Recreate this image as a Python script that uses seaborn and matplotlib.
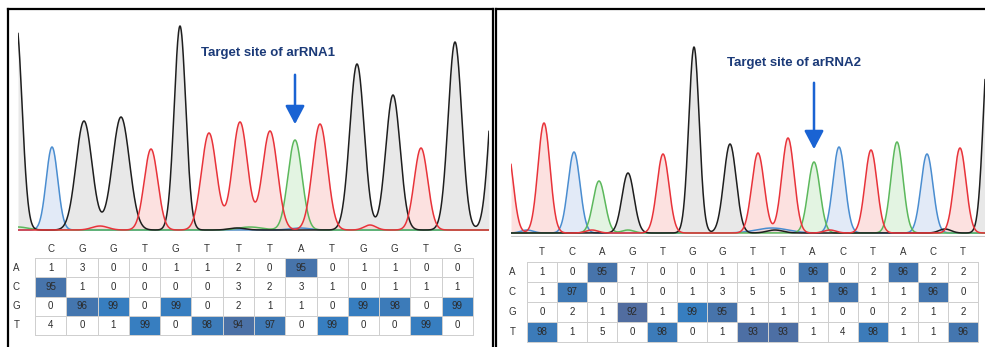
import numpy as np
import pandas as pd
import matplotlib
matplotlib.use("Agg")
import matplotlib.pyplot as plt
from matplotlib.colors import LinearSegmentedColormap
import seaborn as sns

# ---------------- base-call percentage tables ----------------
bases = ["A", "C", "G", "T"]

seq1 = list("CGGTGTTTATGGTG")
pct1_A = [1, 3, 0, 0, 1, 1, 2, 0, 95, 0, 1, 1, 0, 0]
pct1_C = [95, 1, 0, 0, 0, 0, 3, 2, 3, 1, 0, 1, 1, 1]
pct1_G = [0, 96, 99, 0, 99, 0, 2, 1, 1, 0, 99, 98, 0, 99]
pct1_T = [4, 0, 1, 99, 0, 98, 94, 97, 0, 99, 0, 0, 99, 0]

seq2 = list("TCAGTGGTTACTACT")
pct2_A = [1, 0, 95, 7, 0, 0, 1, 1, 0, 96, 0, 2, 96, 2, 2]
pct2_C = [1, 97, 0, 1, 0, 1, 3, 5, 5, 1, 96, 1, 1, 96, 0]
pct2_G = [0, 2, 1, 92, 1, 99, 95, 1, 1, 1, 0, 0, 2, 1, 2]
pct2_T = [98, 1, 5, 0, 98, 0, 1, 93, 93, 1, 4, 98, 1, 1, 96]

# ---------------- chromatogram peaks (scan, base, intensity, width) ----------------
trace1_pos = [16, 52, 84, 121, 151, 180, 209, 240, 270, 295, 320, 357, 393, 421, 455, 497]
trace1_base = list("GCGGTGTTTATGGTGG")
trace1_height = [208, 83, 109, 113, 81, 204, 97, 108, 99, 90, 106, 166, 135, 82, 188, 190]
trace1_width = [6.0, 5.8, 8.0, 8.5, 6.8, 5.8, 7.5, 7.5, 7.5, 7.0, 7.5, 7.2, 7.2, 6.8, 6.8, 7.0]

noise1_pos = [18, 100, 237, 250, 300, 370]
noise1_base = list("ATGACT")
noise1_height = [3, 4, 2, 3, 2, 5]
noise1_width = [10, 8, 8, 12, 10, 6]

trace2_pos = [507, 544, 574, 599, 628, 663, 694, 730, 758, 788, 814, 839, 871, 897, 927, 960, 989]
trace2_base = list("TTCAGTGGTTACTACTG")
trace2_height = [86, 110, 81, 52, 60, 79, 186, 89, 80, 95, 71, 86, 83, 91, 79, 85, 200]
trace2_width = [6.0, 6.0, 6.0, 6.0, 6.0, 6.0, 5.2, 6.2, 6.2, 6.2, 6.0, 6.0, 6.0, 6.0, 6.0, 6.0, 5.5]

noise2_pos = [527, 592, 628, 775, 772, 830, 945]
noise2_base = list("CTAGCTG")
noise2_height = [3, 3, 3, 3, 5, 3, 4]
noise2_width = [6, 6, 6, 8, 16, 6, 6]

line_colors = {"G": "#1e1e1e", "T": "#e8333a", "C": "#4a8dd0", "A": "#5cb85c"}
fill_colors = {"G": "#d6d6d6", "T": "#fbc9c7", "C": "#cbd9f2", "A": "#cdeccb"}

sns.set_theme(style="white")
plt.rcParams["font.family"] = ["Liberation Sans", "DejaVu Sans"]

W, H = 985, 347
fig = plt.figure(figsize=(W / 100, H / 100), dpi=100)


def box(x0, y0, x1, y1):
    return [x0 / W, 1 - y1 / H, (x1 - x0) / W, (y1 - y0) / H]


def draw_frame(rect):
    ax = fig.add_axes(rect, zorder=0)
    ax.set_xticks([])
    ax.set_yticks([])
    ax.patch.set_alpha(0)
    for s in ax.spines.values():
        s.set_visible(True)
        s.set_color("black")
        s.set_linewidth(1.6)
    return ax


def draw_trace(ax, pos, base, height, width, npos, nbase, nheight, nwidth, xlim):
    x = np.linspace(xlim[0], xlim[1], 1600)
    signal = {b: np.zeros_like(x) for b in bases}
    for p, b, h, w in zip(list(pos) + list(npos), list(base) + list(nbase),
                          list(height) + list(nheight), list(width) + list(nwidth)):
        signal[b] += h * np.exp(-0.5 * ((x - p) / w) ** 2)
    for b in ["G", "C", "A", "T"]:
        ax.fill_between(x, 0, signal[b], color=fill_colors[b], alpha=0.55, lw=0)
    for b in ["C", "A", "G", "T"]:
        sns.lineplot(x=x, y=signal[b], ax=ax, color=line_colors[b],
                     lw=1.1, estimator=None, sort=False)
    ax.set_xlim(*xlim)
    ax.set_axis_off()


def draw_table(ax, seq, rows, pad_y, pad_x):
    df = pd.DataFrame(rows, index=bases)
    cmap = LinearSegmentedColormap.from_list(
        "calls", [(0, "white"), (0.899, "white"), (0.9, "#586899"),
                  (0.95, "#4873a9"), (1.0, "#3480c4")])
    sns.heatmap(df, ax=ax, cmap=cmap, vmin=0, vmax=100, annot=True, fmt="d",
                cbar=False, linewidths=0.7, linecolor="#cfcfcf",
                xticklabels=seq, yticklabels=bases,
                annot_kws={"size": 7, "color": "#2b2b2b"})
    ax.collections[0].set_clip_on(False)
    ax.xaxis.tick_top()
    ax.tick_params(axis="x", length=0, pad=pad_y, labelsize=7, colors="#333333")
    ax.tick_params(axis="y", length=0, pad=pad_x, labelsize=7, colors="#333333",
                   rotation=0)


# panel frames
draw_frame(box(7.5, 8.5, 492.5, 420))
draw_frame(box(495.5, 8.5, 1060, 420))

# left panel
axt1 = fig.add_axes(box(18, 18, 489, 234), zorder=2)
draw_trace(axt1, trace1_pos, trace1_base, trace1_height, trace1_width,
           noise1_pos, noise1_base, noise1_height, noise1_width, (18, 489))
axt1.set_ylim(-4, 212)
tgt1 = trace1_pos[trace1_base.index("A")]
axt1.annotate("", xy=(tgt1, 103), xytext=(tgt1, 158),
              arrowprops=dict(arrowstyle="-|>,head_length=0.8,head_width=0.42",
                              color="#1a63d3", lw=1.8, mutation_scale=14))
axt1.text(268, 177, "Target site of arRNA1", ha="center", va="center",
          fontsize=9.5, fontweight="bold", color="#1b3a78")

axh1 = fig.add_axes(box(35, 258, 473, 335), zorder=2)
draw_table(axh1, seq1, [pct1_A, pct1_C, pct1_G, pct1_T], 3, 11)

# right panel
axt2 = fig.add_axes(box(511, 20, 985, 237), zorder=2)
draw_trace(axt2, trace2_pos, trace2_base, trace2_height, trace2_width,
           noise2_pos, noise2_base, noise2_height, noise2_width, (511, 985))
axt2.set_ylim(-4, 213)
axt2.axhline(-2.5, color="#c8c8c8", lw=0.8)
tgt2 = trace2_pos[10]
axt2.annotate("", xy=(tgt2, 81), xytext=(tgt2, 153),
              arrowprops=dict(arrowstyle="-|>,head_length=0.8,head_width=0.42",
                              color="#1a63d3", lw=1.8, mutation_scale=14))
axt2.text(794, 170, "Target site of arRNA2", ha="center", va="center",
          fontsize=9.5, fontweight="bold", color="#1b3a78")

axh2 = fig.add_axes(box(527, 262, 978, 342), zorder=2)
draw_table(axh2, seq2, [pct2_A, pct2_C, pct2_G, pct2_T], 3.5, 8)

fig.savefig("out.png", dpi=100)
